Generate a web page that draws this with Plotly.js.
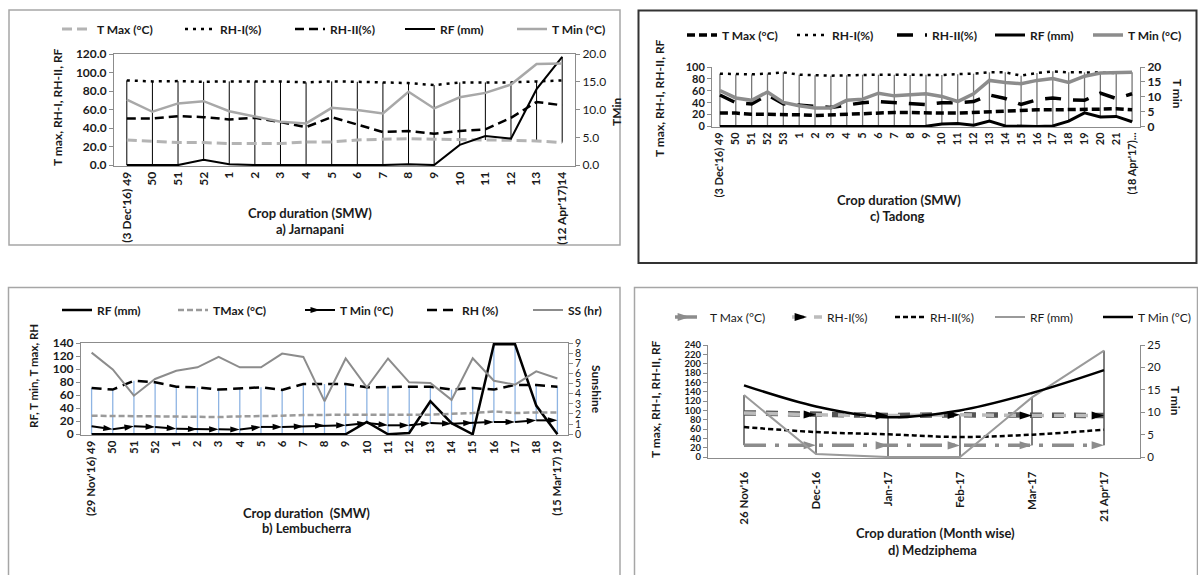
<!DOCTYPE html>
<html><head><meta charset="utf-8">
<script src="https://cdn.plot.ly/plotly-3.0.1.min.js"></script>
<style>html,body{margin:0;padding:0;background:#fff}#chart{width:1198px;height:575px}</style>
</head><body><div id="chart"></div>
<script>
// ---------- a) Jarnapani ----------
const catsA = ["(3 Dec'16) 49","50","51","52","1","2","3","4","5","6","7","8","9","10","11","12","13","(12 Apr'17)14"];
const tmaxA = [27.1,26.1,24.3,24.3,23.2,23.2,23.2,25.0,25.0,27.1,27.9,28.6,27.9,27.9,27.1,26.8,26.1,24.3];
const rh1A  = [91.5,90.4,90.7,90.0,90.4,90.4,90.4,89.3,90.4,90.0,89.3,88.6,86.4,89.3,89.3,89.3,90.4,91.4];
const rh2A  = [50.4,50.4,52.9,51.8,49.3,51.0,46.4,41.0,51.8,44.0,35.7,36.8,33.9,36.8,38.6,51.0,68.2,64.6];
const rfA   = [0,0,0,5.7,1.0,0,0,0,0,0,0,1.0,0,21.8,31.4,28.6,82.0,117.0];
const tminA = [11.8,9.6,11.1,11.5,9.7,8.7,7.8,7.5,10.3,9.9,9.3,13.2,10.2,12.2,13.0,14.5,18.2,18.3];

// ---------- c) Tadong ----------
const catsC = ["(3 Dec'16) 49","50","51","52","53","1","2","3","4","5","6","7","8","9","10","11","12","13","14","15","16","17","18","19","20","21","(18 Apr'17)..."];
const tmaxC = [22.5,22.5,20.8,20.8,19.7,19.7,18.5,19.7,21.3,22.5,23.6,23.6,23.6,22.5,22.5,22.5,23.6,25.3,26.4,27.0,28.1,28.1,28.1,28.1,29.2,29.8,28.1];
const rh1C  = [88.8,87.6,87.6,88.8,91.0,87.0,86.0,85.4,86.0,87.0,87.0,87.0,86.5,87.0,86.5,88.0,88.8,91.0,91.0,85.4,90.0,92.7,91.0,91.0,90.0,90.0,91.0];
const rh2C  = [53,40,38,53,38,36,34,32,36,40,42,40,39,37,40,40,42,53,47,37,45,48,45,44,56,47,55];
const rfC   = [0,0,0,0,0,0,0,0,0,0.5,0,0,0,0.5,4,5,2,9,1,0,0,1,9,23,16,17,8];
const tminC = [12.1,9.6,8.8,11.6,8.1,7.0,6.2,6.2,8.8,9.2,11.2,10.3,10.7,11.0,10.1,8.4,11.0,15.5,14.8,14.4,15.5,16.1,14.8,16.9,18.0,18.2,18.2];

// ---------- b) Lembucherra ----------
const catsB = ["(29 Nov'16) 49","50","51","52","1","2","3","4","5","6","7","8","9","10","11","12","13","14","15","16","17","18","(15 Mar'17) 19"];
const rfB   = [0,0,0,0,0,0,0,0,0,0,0,0,0,18.8,0,2,50.7,17,0,138,138,44,0];
const tmaxB = [28.4,27.9,27.4,27.4,26.4,26.4,26.4,27.4,27.4,28.4,29.4,30,30,30,30,30,30,31.4,32.5,35,32.5,33.5,33.5];
const tminB = [12.2,7.6,12.2,11.2,8.6,7.6,7.6,7.1,11.2,11.2,12.2,13.7,13.7,17.2,13.7,13.7,17.2,16.2,17.8,18.8,18.8,21.3,21.3];
const rhB   = [71,68.5,82,79.6,73,72,68.5,70.5,72,68,77,77,77,72,73,73,73,68.5,71,68.5,75.6,75.6,73];
const ssB   = [8.05,6.4,3.8,5.45,6.26,6.6,7.63,6.6,6.6,7.96,7.63,3.26,7.47,4.63,7.47,5.12,5.05,3.39,7.5,5.28,4.89,6.2,5.5];

// ---------- d) Medziphema ----------
const catsD = ["26 Nov'16","Dec-16","Jan-17","Feb-17","Mar-17","21 Apr'17"];
const tmaxD = [25.4,25.1,25.0,25.0,25.1,25.2];
const rh1D  = [94.6,90.4,89.0,90.4,89.0,89.0];
const rh2D  = [64.2,53.6,48.7,43.0,48.0,58.6];
const rfD   = [132.7,6.4,0,0,127.8,228];
const tminD = [16.0,11.3,8.9,10.4,14.3,19.4];

const W = 1198, H = 575;
const px = x => x / W, py = y => 1 - y / H;
const FONT = 'Lato, "Liberation Sans", sans-serif';
const TXT = '#1a1a1a';

function hiLo(cats, series, xa, ya, color, width) {
  const xs = [], ys = [];
  cats.forEach((c, i) => {
    const v = series.map(s => s[i]);
    xs.push(c, c, null); ys.push(Math.max(...v), Math.min(...v), null);
  });
  return {type:'scatter', mode:'lines', x:xs, y:ys, xaxis:xa, yaxis:ya,
          line:{color:color, width:width}, showlegend:false, hoverinfo:'skip'};
}
function ln(name, x, y, xa, ya, leg, lw, line, extra) {
  return Object.assign({type:'scatter', mode:'lines', name:name, x:x, y:y, xaxis:xa, yaxis:ya,
    legend:leg, legendwidth:lw, line:line, hoverinfo:'skip'}, extra || {});
}

const data = [
  // a
  hiLo(catsA, [tmaxA, rh1A, rh2A, rfA], 'x', 'y', '#000', 1),
  ln('T Max (°C)', catsA, tmaxA, 'x', 'y', 'legend', 78, {color:'#b4b4b4', width:3, dash:'10px,5px'}),
  ln('RH-I(%)', catsA, rh1A, 'x', 'y', 'legend', 65, {color:'#000', width:2.5, dash:'3px,5px'}),
  ln('RH-II(%)', catsA, rh2A, 'x', 'y', 'legend', 65, {color:'#000', width:2.5, dash:'9px,5px'}),
  ln('RF (mm)', catsA, rfA, 'x', 'y', 'legend', 67, {color:'#000', width:2}),
  ln('T Min (°C)', catsA, tminA, 'x', 'y2', 'legend', 60, {color:'#a8a8a8', width:2.5}),
  // c
  hiLo(catsC, [tmaxC, rh1C, rh2C, rfC], 'x2', 'y3', '#777', 1.3),
  ln('T Max (°C)', catsC, tmaxC, 'x2', 'y3', 'legend2', 65, {color:'#000', width:3.5, dash:'8px,4px'}),
  ln('RH-I(%)', catsC, rh1C, 'x2', 'y3', 'legend2', 55, {color:'#000', width:2.5, dash:'3px,5px'}),
  ln('RH-II(%)', catsC, rh2C, 'x2', 'y3', 'legend2', 53, {color:'#000', width:3.5, dash:'16px,12px'}),
  ln('RF (mm)', catsC, rfC, 'x2', 'y3', 'legend2', 53, {color:'#000', width:3}),
  ln('T Min (°C)', catsC, tminC, 'x2', 'y4', 'legend2', 55, {color:'#8c8c8c', width:3.5}),
  // b
  hiLo(catsB, [rfB, tmaxB, tminB, rhB], 'x3', 'y5', '#8eb4e3', 1.3),
  ln('SS (hr)', catsB, ssB, 'x3', 'y6', 'legend3', 40, {color:'#8c8c8c', width:2}, {legendrank:5}),
  ln('RF (mm)', catsB, rfB, 'x3', 'y5', 'legend3', 71, {color:'#000', width:2.5}, {legendrank:1}),
  ln('TMax (°C)', catsB, tmaxB, 'x3', 'y5', 'legend3', 82, {color:'#9a9a9a', width:2.5, dash:'6px,3px'}, {legendrank:2}),
  ln('T Min (°C)', catsB, tminB, 'x3', 'y5', 'legend3', 77, {color:'#000', width:2},
     {mode:'lines+markers', marker:{symbol:'arrow', size:10, color:'#000', angleref:'previous'}, legendrank:3}),
  ln('RH (%)', catsB, rhB, 'x3', 'y5', 'legend3', 61, {color:'#000', width:2.5, dash:'10px,6px'}, {legendrank:4}),
  // d
  hiLo(catsD, [tmaxD, rh1D, rh2D, rfD], 'x4', 'y7', '#000', 1),
  ln('T Max (°C)', catsD, tmaxD, 'x4', 'y7', 'legend4', 72, {color:'#8c8c8c', width:3.5, dash:'22px,9px,4px,9px'},
     {mode:'lines+markers', marker:{symbol:'arrow', size:13, color:'#8c8c8c', angleref:'previous'}}),
  // thin dark outline under the RH-I dashes
  ln('RH-I outline', catsD, rh1D, 'x4', 'y7', 'legend4', 58, {color:'#555', width:5.5, dash:'12px,10px'}, {showlegend:false}),
  ln('RH-I(%)', catsD, rh1D, 'x4', 'y7', 'legend4', 58, {color:'#bcbcbc', width:3.5, dash:'12px,10px'},
     {mode:'lines+markers', marker:{symbol:'arrow', size:13, color:'#000', angleref:'previous'}}),
  ln('RH-II(%)', catsD, rh2D, 'x4', 'y7', 'legend4', 55, {color:'#000', width:2.5, dash:'5px,3px', shape:'spline'}),
  ln('RF (mm)', catsD, rfD, 'x4', 'y7', 'legend4', 63, {color:'#9a9a9a', width:2}),
  ln('T Min (°C)', catsD, tminD, 'x4', 'y8', 'legend4', 50, {color:'#000', width:2.5, shape:'spline'})
];

const tf = (size, bold) => ({family:FONT, size:size, color:TXT, weight: bold ? 'bold' : 'normal'});
function xax(l, r, anchor, n, size, extra) {
  return Object.assign({domain:[px(l), px(r)], anchor:anchor, type:'category', range:[-0.5, n - 0.5],
    showline:true, linecolor:'#8c8c8c', linewidth:1, ticks:'', tickangle:-90, tickfont:tf(size, true),
    showgrid:false, zeroline:false, fixedrange:true, layer:'below traces'}, extra || {});
}
function yax(b, t, anchor, max, dtick, size, bold, extra) {
  return Object.assign({domain:[py(b), py(t)], anchor:anchor, range:[-max / 120, max], dtick:dtick, tick0:0,
    showline:true, linecolor:'#8c8c8c', linewidth:1, ticks:'outside', ticklen:4, tickcolor:'#8c8c8c',
    tickfont:tf(size, bold), showgrid:false, zeroline:false, fixedrange:true, layer:'below traces'}, extra || {});
}
function yax2(over, anchor, max, dtick, size, bold, extra) {
  return Object.assign({overlaying:over, side:'right', anchor:anchor, range:[-max / 120, max], dtick:dtick, tick0:0,
    showline:true, linecolor:'#8c8c8c', linewidth:1, ticks:'outside', ticklen:4, tickcolor:'#8c8c8c',
    tickfont:tf(size, bold), showgrid:false, zeroline:false, fixedrange:true, layer:'below traces'}, extra || {});
}
function leg(xItem, yMid, bold) {
  return {orientation:'h', x:px(xItem), xanchor:'left', y:py(yMid), yanchor:'middle',
    bgcolor:'rgba(0,0,0,0)', borderwidth:0, font:{family:FONT, size:12, color:TXT, weight: bold ? 'bold' : 'normal'},
    itemwidth:30, traceorder:'normal', itemclick:false, itemdoubleclick:false};
}
function ann(text, x, y, size, angle) {
  return {text:text, x:px(x), y:py(y), xref:'paper', yref:'paper', showarrow:false,
    xanchor:'center', yanchor:'middle', textangle:angle || 0, font:tf(size, true)};
}
function box(x0, y0, x1, y1, color, w) {
  return {type:'rect', xref:'paper', yref:'paper', x0:px(x0), x1:px(x1), y0:py(y1), y1:py(y0),
    line:{color:color, width:w}, fillcolor:'rgba(0,0,0,0)', layer:'below'};
}

const layout = {
  width:W, height:H, margin:{l:0, r:0, t:0, b:0}, paper_bgcolor:'#fff', plot_bgcolor:'rgba(0,0,0,0)',
  hovermode:false, showlegend:true,
  xaxis: xax(114, 575, 'y', catsA.length, 12, {mirror:true}),
  yaxis: yax(166, 54, 'x', 120, 20, 12, true, {tickformat:'.1f'}),
  yaxis2: yax2('y', 'x', 20, 5, 12, false, {tickformat:'.1f'}),
  xaxis2: xax(712, 1140, 'y3', catsC.length, 11),
  yaxis3: yax(127, 67, 'x2', 100, 20, 11, true),
  yaxis4: yax2('y3', 'x2', 20, 5, 12, true),
  xaxis3: xax(81, 568, 'y5', catsB.length, 11.5, {mirror:true}),
  yaxis5: yax(435, 343, 'x3', 140, 20, 12, true),
  yaxis6: yax2('y5', 'x3', 9, 1, 10.5, false),
  xaxis4: xax(708, 1140, 'y7', catsD.length, 11.5, {ticklabelstandoff:8}),
  yaxis7: yax(458, 345, 'x4', 240, 20, 9.5, true),
  yaxis8: yax2('y7', 'x4', 25, 5, 11.5, false),
  legend: leg(57, 29, true),
  legend2: leg(682, 35, true),
  legend3: leg(57, 310, true),
  legend4: leg(670, 317, false),
  annotations: [
    ann('Crop duration (SMW)', 310, 213, 13),
    ann('a) Jarnapani', 310, 229, 13),
    ann('T max, RH-I, RH-II, RF', 57, 107, 12, -90),
    ann('TMin', 617, 112, 12, -90),
    ann('Crop duration (SMW)', 899, 200, 13),
    ann('c) Tadong', 897, 216, 13),
    ann('T max, RH-I, RH-II, RF', 660, 98, 12, -90),
    ann('T min', 1177, 94, 12, 90),
    ann('Crop duration\u00a0 (SMW)', 307, 513, 13),
    ann('b) Lembucherra', 307, 528, 13),
    ann('RF, T min, T max, RH', 33, 376, 11.5, -90),
    ann('Sunshine', 597, 389, 12, 90),
    ann('Crop duration (Month wise)', 935, 533, 13),
    ann('d) Medziphema', 932, 550, 13),
    ann('T max, RH-I, RH-II, RF', 655, 399, 12, -90),
    ann('T min', 1175, 401, 12, 90)
  ],
  shapes: [
    box(9, 10, 620, 245, '#a6a6a6', 1.5),
    box(638.5, 10.5, 1196.5, 263, '#333', 2),
    box(8.5, 287.5, 620, 580, '#a6a6a6', 1.5),
    box(634.5, 287.5, 1197.5, 580, '#a6a6a6', 1.5)
  ]
};

Plotly.newPlot('chart', data, layout, {staticPlot:true, displayModeBar:false});
</script></body></html>
